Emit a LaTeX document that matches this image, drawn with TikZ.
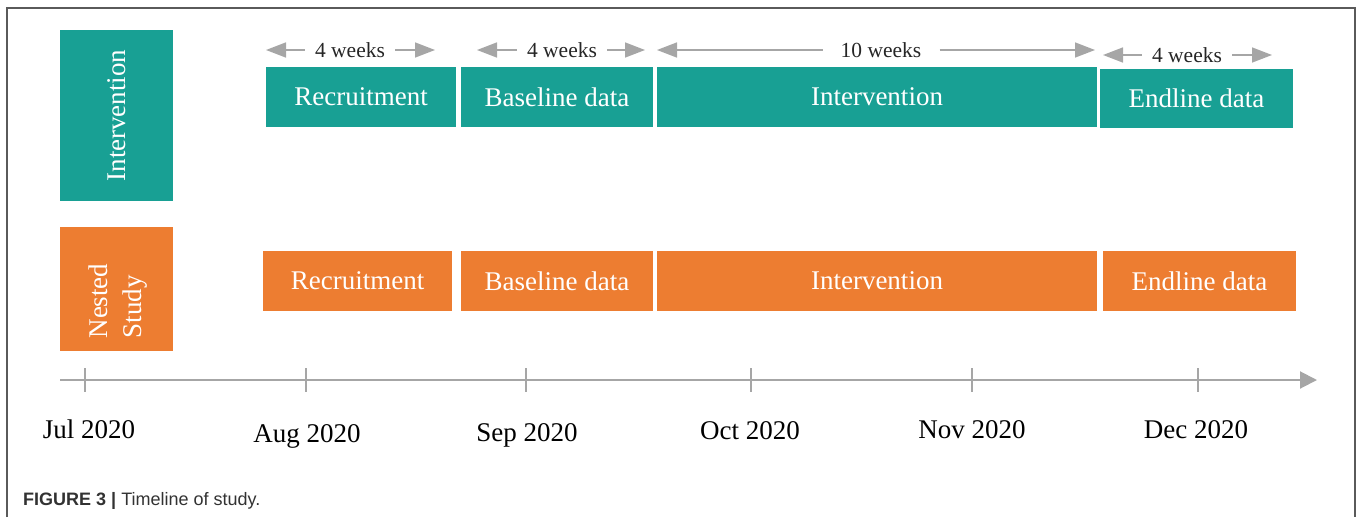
\documentclass[tikz,border=0pt]{standalone}
\usepackage{fontspec}
\setmainfont{Liberation Serif}
\newfontfamily\capfont{Liberation Sans}
\usetikzlibrary{arrows.meta}
\definecolor{tealbox}{RGB}{24,160,148}
\definecolor{orangebox}{RGB}{237,125,49}
\definecolor{axisgray}{RGB}{166,166,166}
\definecolor{framegray}{RGB}{90,90,90}
\definecolor{capgray}{RGB}{50,50,50}
\tikzset{
	phase/.style = {fill = #1, text = white, inner sep = 0pt, font = \fontsize{27}{32}\selectfont},
	bar/.style = {minimum height = 60pt},
	durlbl/.style = {inner ysep = 0pt, font = \fontsize{21.5}{24}\selectfont, text = black!85},
	dur/.style = {axisgray, line width = 1.5pt, -{Triangle[length = 20pt, width = 15pt]}},
	datelbl/.style = {anchor = base, inner sep = 0pt, font = \fontsize{27}{32}\selectfont}
}

\begin{document}
\begin{tikzpicture}[x = 1pt, y = -1pt]
	\useasboundingbox (0, 0) rectangle (1357, 517);
	\draw[framegray, line width = 1.5pt] (7, 517) -- (7, 8) -- (1355, 8) -- (1355, 517);
	% row headers
	\node[phase = tealbox, rotate = 90, minimum width = 171pt, minimum height = 113pt] (introw) at (116.5, 115.5) {Intervention};
	\node[phase = orangebox, minimum width = 113pt, minimum height = 124pt] (nestrow) at (116.5, 289) {};
	\node[phase = orangebox, fill = none, rotate = 90, align = left, font = \fontsize{27}{34}\selectfont] (nesttxt) at (118, 301) {Nested\\Study};
	% intervention phases
	\node[phase = tealbox, bar, minimum width = 190pt] (recI) at (361, 97) {Recruitment};
	\node[phase = tealbox, bar, minimum width = 192pt] (baseI) at (557, 97) {Baseline data};
	\node[phase = tealbox, bar, minimum width = 440pt] (intI) at (877, 97) {Intervention};
	\node[phase = tealbox, bar, minimum width = 193pt, minimum height = 59pt] (endI) at (1196.5, 98.5) {Endline data};
	% nested study phases
	\node[phase = orangebox, bar, minimum width = 189pt] (recN) at (357.5, 281) {Recruitment};
	\node[phase = orangebox, bar, minimum width = 192pt] (baseN) at (557, 281) {Baseline data};
	\node[phase = orangebox, bar, minimum width = 440pt] (intN) at (877, 281) {Intervention};
	\node[phase = orangebox, bar, minimum width = 193pt] (endN) at (1199.5, 281) {Endline data};
	% durations
	\foreach \n/\a/\m/\b/\y/\s/\t in {wa/266/350/435/50/10/4 weeks, wb/477/562/645/50/10/4 weeks, wc/657/881/1095/50/18/10 weeks, wd/1103/1187/1272/55/10/4 weeks}
	{
		\node[durlbl, inner xsep = \s pt] (\n) at (\m, \y) {\t};
		\coordinate (\n l) at (\a, \y);
		\coordinate (\n r) at (\b, \y);
		\draw[dur] (\n) -- (\n l);
		\draw[dur] (\n) -- (\n r);
	}
	% time axis
	\coordinate (ax0) at (60, 380);
	\coordinate (ax1) at (1317, 380);
	\draw[axisgray, line width = 2pt, -{Triangle[length = 17pt, width = 17pt]}] (ax0) -- (ax1);
	\foreach \x/\lx/\ly/\t [count = \i] in {85/89/438/Jul 2020, 306/307/442/Aug 2020, 526/527/441/Sep 2020, 751/750/439/Oct 2020, 972/972/438/Nov 2020, 1198/1196/438/Dec 2020}
	{
		\draw[axisgray, line width = 2pt] (\x, 368) -- (\x, 392);
		\node[datelbl] (m\i) at (\lx, \ly) {\t};
	}
	\node[anchor = base west, inner sep = 0pt, text = capgray, font = \capfont\fontsize{18}{21}\selectfont] (cap) at (23, 505) {\textbf{FIGURE 3 |} Timeline of study.};
\end{tikzpicture}
\end{document}
